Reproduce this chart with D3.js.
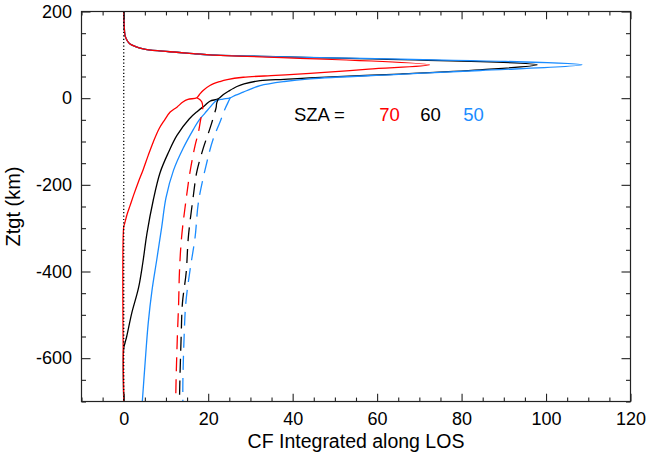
<!DOCTYPE html>
<html>
<head>
<meta charset="utf-8">
<script src="https://cdn.jsdelivr.net/npm/d3@7"></script>
<style>
  html, body { margin: 0; padding: 0; background: #fff; }
  svg { display: block; }
  text { font-family: "Liberation Sans", Arial, Helvetica, sans-serif; }
</style>
</head>
<body>
<svg id="chart" width="651" height="454"></svg>
<script>
// Contribution function integrated along the line of sight, [CF, Ztgt km]
// Shared upper part (above the emission peak) for every SZA
const upperCommon = [[0,200],[0.1,170],[0.3,145],[0.8,133],[1.5,125],[2.8,119],[4.6,114],[8,109.5],[12.5,106],[16.5,102.8],[20.4,100]];

// SZA = 70
const sza70Peak   = [[72.4,76.9]];
const sza70Lower  = [[58,67],[44.1,57],[36,52.5],[28.3,48.3],[24.5,43],[22.8,38.4],[20.4,29.2],[18.8,17.7],[17.9,8],[17.3,1]];
const sza70Solid  = [[15.2,-3],[14,-9],[12.6,-20.7],[11,-32],[9.7,-50],[8.4,-70],[7,-101],[5.8,-132],[4.6,-165],[3.4,-195],[2.4,-222],[1.5,-248],[0.8,-268],[0.2,-290],[0,-297],[0,-700]];
const sza70Dashed = [[17.3,1],[18.0,-3],[18.5,-9],[18.7,-25],[18.2,-50],[17.7,-78],[16.9,-109],[15.7,-170],[14.9,-224],[13.7,-321],[13.2,-400],[13.0,-473],[12.7,-550],[12.4,-650],[12.3,-700]];

// SZA = 60
const sza60Peak   = [[97.9,76.9]];
const sza60Lower  = [[84.4,65.4],[65.4,55.7],[44,47],[38,43.5],[32.3,40.4],[28.5,33],[26.8,26.9],[24.8,16],[23.6,8.5],[22.4,-1.4]];
const sza60Solid  = [[20.4,-7],[19.2,-16.8],[17.5,-30],[15.5,-48],[12.6,-86],[10.6,-125],[8.6,-172],[7.0,-235],[5.5,-312],[4.5,-381],[3.5,-438],[1.9,-496],[0.7,-550],[0.3,-565],[0,-577],[0,-700]];
const sza60Dashed = [[22.4,-1.4],[22.0,-12],[21.9,-20.7],[21.6,-32],[20.4,-70.4],[18.8,-116.5],[17.3,-170],[16.5,-224],[15.3,-320.7],[14.8,-401],[13.9,-473],[13.6,-550],[13.3,-650],[13.2,-700]];

// SZA = 50
const sza50Peak   = [[108.5,76.9]];
const sza50Lower  = [[84.4,63.8],[64,54.5],[44.1,44.7],[38,38.5],[32.3,29.2],[30,21],[28.3,13.8],[26.5,7],[25.2,0.9]];
const sza50Solid  = [[23.5,-2],[22,-5],[20.5,-20],[19.2,-35],[17.8,-51],[16.5,-72],[14.1,-115],[11.8,-166],[10,-230],[9.0,-297],[7.8,-374],[6.7,-443],[5.8,-519],[5.0,-619],[4.4,-700]];
const sza50Dashed = [[25.2,0.9],[25.0,-3.7],[24.0,-24.4],[22.8,-55.2],[21.2,-93.5],[19.7,-147.3],[17.7,-239.4],[16.9,-320.7],[15.7,-396.7],[14.7,-473],[14.3,-550],[14.0,-657],[14.0,-700]];

const xTicks = [0, 20, 40, 60, 80, 100, 120];
const yTicks = [-600, -400, -200, 0, 200];
const szaLabels = ["70", "60", "50"];
const szaColors = ["#ff0000", "#000000", "#1a8cff"];

const svg = d3.select("#chart");
const plotLeft = 81.5, plotRight = 630.5, plotTop = 11.5, plotBottom = 401.5;

const x = d3.scaleLinear().domain([-10, 120]).range([plotLeft, plotRight]);
const y = d3.scaleLinear().domain([-700, 200]).range([plotBottom, plotTop]);

const xMinor = d3.range(-10, 121, 5).filter(v => v % 20 !== 0);
const yMinor = d3.range(-700, 201, 50).filter(v => v % 200 !== 0);

// plain hyphen-minus for negative tick labels
const tickText = d => String(d);

const line = d3.line()
  .x(d => x(d[0]))
  .y(d => y(d[1]))
  .curve(d3.curveCatmullRom.alpha(0.5));

const plot = svg.append("g");
plot.append("clipPath").attr("id", "clip")
  .append("rect").attr("x", plotLeft).attr("y", plotTop)
  .attr("width", plotRight - plotLeft).attr("height", plotBottom - plotTop);

const curves = plot.append("g").attr("clip-path", "url(#clip)");

const series = [
  { peak: sza60Peak, lower: sza60Lower, solid: sza60Solid, dashed: sza60Dashed, color: szaColors[1] },
  { peak: sza50Peak, lower: sza50Lower, solid: sza50Solid, dashed: sza50Dashed, color: szaColors[2] },
  { peak: sza70Peak, lower: sza70Lower, solid: sza70Solid, dashed: sza70Dashed, color: szaColors[0] }
];

series.forEach(s => {
  const full = upperCommon.concat(s.peak, s.lower, s.solid);
  curves.append("path")
    .datum(full)
    .attr("d", line)
    .attr("fill", "none")
    .attr("stroke", s.color)
    .attr("stroke-width", 1.3)
    .attr("stroke-linejoin", "round");
});

series.forEach(s => {
  curves.append("path")
    .datum(s.dashed)
    .attr("d", line)
    .attr("fill", "none")
    .attr("stroke", s.color)
    .attr("stroke-width", 1.3)
    .attr("stroke-dasharray", "14,8");
});

// zero reference line
curves.append("line")
  .attr("x1", x(0)).attr("x2", x(0))
  .attr("y1", y(200)).attr("y2", y(-700))
  .attr("stroke", "#000")
  .attr("stroke-width", 1.3)
  .attr("stroke-dasharray", "1.2,2.2");

// axes: ticks point into the plot on all four sides
function styleAxis(g) {
  g.select(".domain").remove();
  g.selectAll(".tick line").attr("stroke", "#222").attr("stroke-width", 1.1);
  g.selectAll(".tick text").attr("fill", "#000").style("font-size", "18px")
    .style("font-family", '"Liberation Sans", Arial, Helvetica, sans-serif');
}

svg.append("g").attr("transform", `translate(0,${plotBottom})`)
  .call(d3.axisBottom(x).tickValues(xTicks).tickFormat(tickText).tickSize(-7.8).tickPadding(11))
  .call(styleAxis);
svg.append("g").attr("transform", `translate(0,${plotBottom})`)
  .call(d3.axisBottom(x).tickValues(xMinor).tickFormat("").tickSize(-3.9))
  .call(styleAxis);
svg.append("g").attr("transform", `translate(0,${plotTop})`)
  .call(d3.axisTop(x).tickValues(xTicks).tickFormat("").tickSize(-7.8))
  .call(styleAxis);
svg.append("g").attr("transform", `translate(0,${plotTop})`)
  .call(d3.axisTop(x).tickValues(xMinor).tickFormat("").tickSize(-3.9))
  .call(styleAxis);

svg.append("g").attr("transform", `translate(${plotLeft},0)`)
  .call(d3.axisLeft(y).tickValues(yTicks).tickFormat(tickText).tickSize(-9).tickPadding(9.5))
  .call(styleAxis);
svg.append("g").attr("transform", `translate(${plotLeft},0)`)
  .call(d3.axisLeft(y).tickValues(yMinor).tickFormat("").tickSize(-4.5))
  .call(styleAxis);
svg.append("g").attr("transform", `translate(${plotRight},0)`)
  .call(d3.axisRight(y).tickValues(yTicks).tickFormat("").tickSize(-9))
  .call(styleAxis);
svg.append("g").attr("transform", `translate(${plotRight},0)`)
  .call(d3.axisRight(y).tickValues(yMinor).tickFormat("").tickSize(-4.5))
  .call(styleAxis);

svg.append("rect")
  .attr("x", plotLeft).attr("y", plotTop)
  .attr("width", plotRight - plotLeft).attr("height", plotBottom - plotTop)
  .attr("fill", "none").attr("stroke", "#222").attr("stroke-width", 1.2);

// axis titles
svg.append("text")
  .attr("x", (plotLeft + plotRight) / 2).attr("y", 448)
  .attr("text-anchor", "middle")
  .style("font-size", "19.5px")
  .text("CF Integrated along LOS");

svg.append("text")
  .attr("transform", `translate(19.5,${(plotTop + plotBottom) / 2}) rotate(-90)`)
  .attr("text-anchor", "middle")
  .style("font-size", "20px")
  .text("Ztgt (km)");

// SZA legend
const legendZ = -53.6;
svg.append("text")
  .attr("x", x(40.3)).attr("y", y(legendZ))
  .style("font-size", "18.5px")
  .text("SZA =");
const legendX = [60.5, 70.2, 80.4];
szaLabels.forEach((t, i) => {
  svg.append("text")
    .attr("x", x(legendX[i])).attr("y", y(legendZ))
    .attr("fill", szaColors[i])
    .style("font-size", "18.5px")
    .text(t);
});
</script>
</body>
</html>
